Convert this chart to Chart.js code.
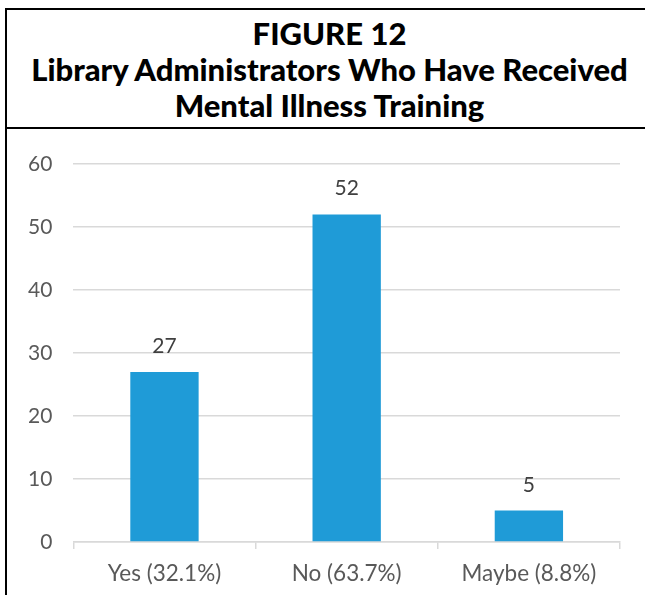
<!DOCTYPE html>
<html>
<head>
<meta charset="utf-8">
<script src="https://cdn.jsdelivr.net/npm/chart.js@4.4.1/dist/chart.umd.min.js"></script>
<style>
  body { margin: 0; background: #fff; width: 645px; height: 595px; overflow: hidden; position: relative; }
  #titlebox {
    position: absolute; left: 5px; top: 8px; width: 660px; height: 117px;
    border-top: 2px solid #000; border-left: 2px solid #000; border-bottom: 2px solid #000;
    font-family: Lato, sans-serif; font-weight: 900; color: #000; text-align: center;
  }
  #titlebox div { position: absolute; left: 0; width: 645px; font-size: 31px; line-height: 36px; }
  #chartbox { position: absolute; left: 5px; top: 127px; width: 638px; height: 468px; border-left: 2px solid #000; }
</style>
</head>
<body>
<div id="titlebox">
  <div style="top:5px">FIGURE 12</div>
  <div style="top:41px">Library Administrators Who Have Received</div>
  <div style="top:77px">Mental Illness Training</div>
</div>
<div id="chartbox"><canvas id="myChart" width="638" height="468"></canvas></div>
<script>
// 데이터
var categories = ['Yes (32.1%)', 'No (63.7%)', 'Maybe (8.8%)'];
var counts = [27, 52, 5];
var yTicks = [0, 10, 20, 30, 40, 50, 60];

// 막대 위에 값 표시
var valueLabels = {
    id: 'valueLabels',
    afterDatasetsDraw: function(chart) {
        var ctx = chart.ctx;
        var meta = chart.getDatasetMeta(0);
        ctx.save();
        ctx.font = '21px Lato';
        ctx.fillStyle = '#404040';
        ctx.textAlign = 'center';
        ctx.textBaseline = 'alphabetic';
        for (var i = 0; i < meta.data.length; i++) {
            var bar = meta.data[i];
            ctx.fillText(counts[i], bar.x, bar.y - 19);
        }
        ctx.restore();
    }
};

var ctx = document.getElementById('myChart').getContext('2d');
var myChart = new Chart(ctx, {
    type: 'bar',
    data: {
        labels: categories,
        datasets: [{
            data: counts,
            backgroundColor: '#1f9bd7',
            categoryPercentage: 1,
            barPercentage: 0.375
        }]
    },
    options: {
        responsive: false,
        animation: false,
        devicePixelRatio: 1,
        layout: { padding: { top: 37, right: 25, bottom: 0, left: 0 } },
        plugins: { legend: { display: false }, tooltip: { enabled: false } },
        scales: {
            x: {
                offset: true,
                afterFit: function(axis) { axis.height = 53; },
                grid: { offset: true, drawOnChartArea: false, color: '#d9d9d9', tickLength: 7, lineWidth: 1.5 },
                border: { color: '#d9d9d9', width: 1.5 },
                ticks: { color: '#595959', font: { family: 'Lato', size: 22.5 }, padding: 11, maxRotation: 0, autoSkip: false }
            },
            y: {
                min: 0,
                max: 60,
                afterBuildTicks: function(axis) {
                    axis.ticks = yTicks.map(function(v) { return { value: v }; });
                },
                grid: { color: '#d9d9d9', lineWidth: 1.5, drawTicks: false },
                border: { display: false },
                ticks: { color: '#595959', font: { family: 'Lato', size: 21 }, padding: 21 }
            }
        }
    },
    plugins: [valueLabels]
});
</script>
</body>
</html>
